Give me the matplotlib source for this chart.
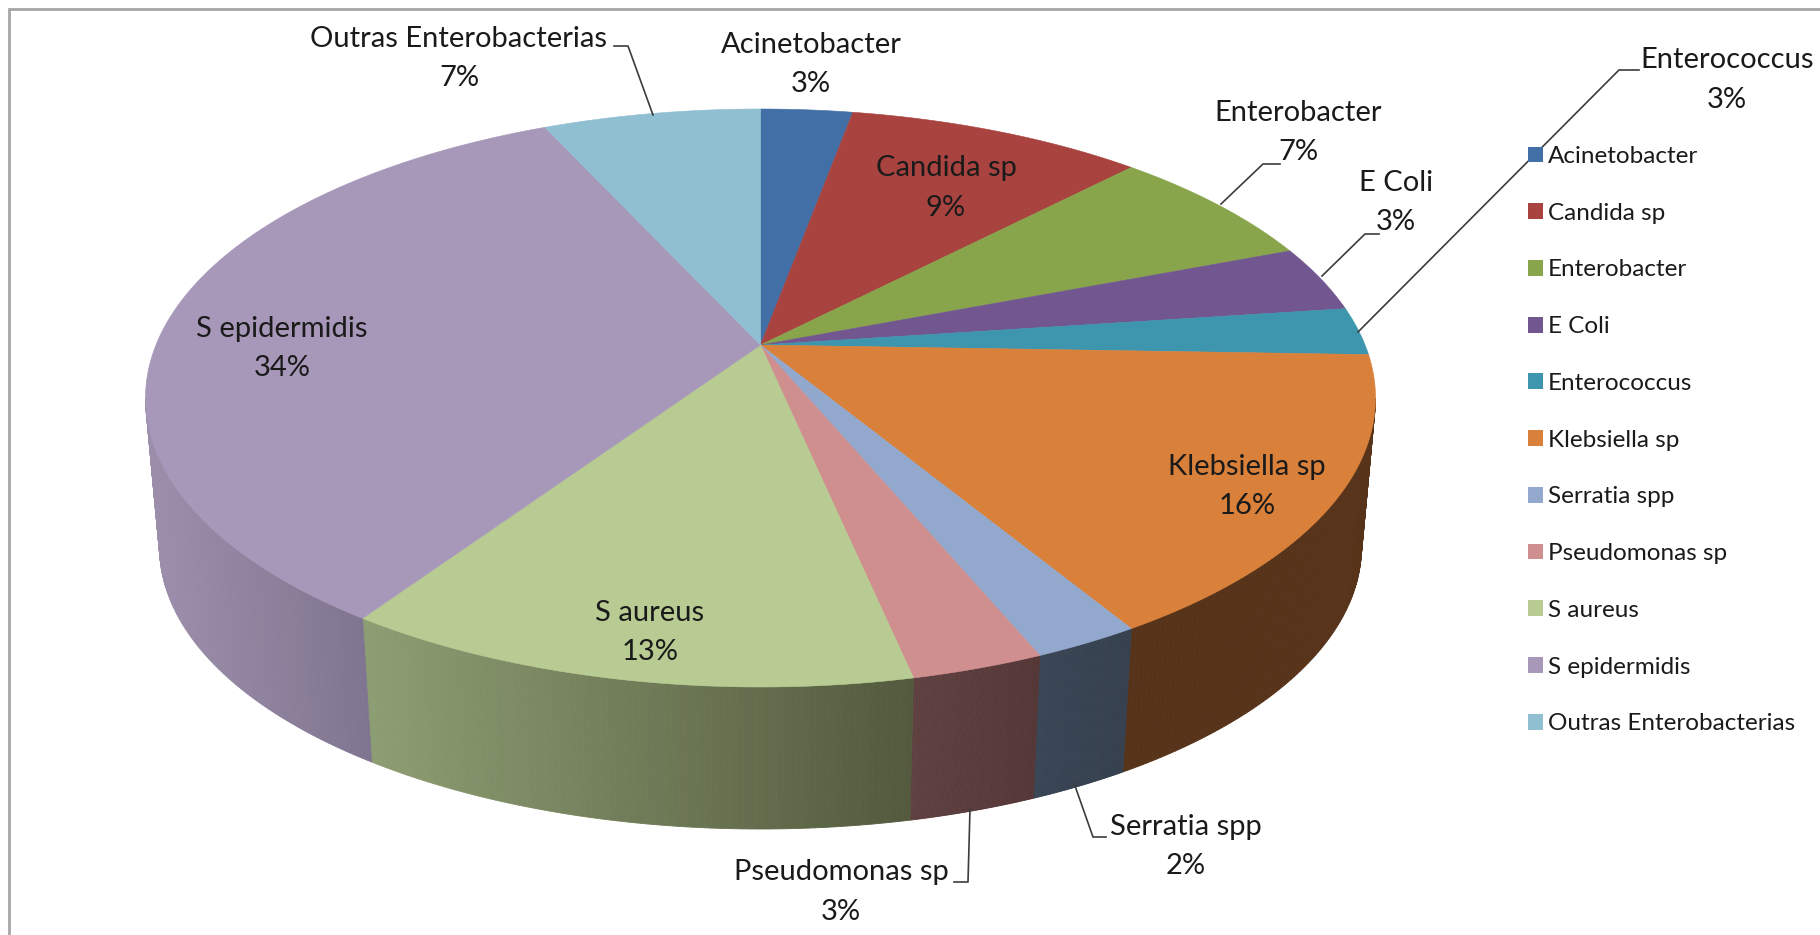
import matplotlib
matplotlib.use('Agg')
import matplotlib.pyplot as plt
from matplotlib.patches import Patch
from matplotlib.colors import to_rgb
import numpy as np

categories = ['Acinetobacter', 'Candida sp', 'Enterobacter', 'E Coli', 'Enterococcus',
              'Klebsiella sp', 'Serratia spp', 'Pseudomonas sp', 'S aureus', 'S epidermidis',
              'Outras Enterobacterias']
# share of the ellipse each slice takes in the picture
slice_share = [2.4, 7.9, 6.2, 3.5, 2.6, 17.1, 2.8, 3.5, 15.2, 33.1, 5.7]
# percentages printed on the labels
percent_labels = [3, 9, 7, 3, 3, 16, 2, 3, 13, 34, 7]

colors = ['#4270a6', '#a84340', '#88a54c', '#71568f', '#3e96ae', '#d9803a',
          '#92a8cd', '#cf8f8e', '#b7cb92', '#a797b9', '#90bfd2']
# side wall colours, left edge and right edge of each visible piece
side_colors = {5: ('#57331a', '#57331a'), 6: ('#394656', '#37414f'), 7: ('#5f4040', '#553636'),
               8: ('#8e9e73', '#535a3e'), 9: ('#9d8fab', '#807590')}

# label centres in pixels
label_pos = [(811, 45), (946, 168), (1298, 113), (1396, 183), (1727, 60), (1247, 467),
             (1186, 827), (841, 872), (650, 613), (282, 329), (459, 39)]
line_gap = 39.5

leaders = [[(614, 46), (628, 46), (653, 115)],
           [(1221, 204), (1263, 164), (1280, 164)],
           [(1322, 276), (1365, 234), (1379, 234)],
           [(1358, 332), (1619, 70), (1639, 70)],
           [(1074, 783), (1093, 837), (1106, 837)],
           [(970, 809), (968, 882), (954, 882)]]

cx, apex_y = 760.5, 345
top_y, top_rx, top_ry = 398, 615, 289
bot_y, bot_rx, bot_ry = 547, 601, 282


def top_edge(t):
    return cx + top_rx * np.sin(t), top_y - top_ry * np.cos(t)


def bottom_edge(t):
    return cx + bot_rx * np.sin(t), bot_y - bot_ry * np.cos(t)


fig = plt.figure(figsize=(18.2, 9.35), dpi=100)
ax = fig.add_axes([0, 0, 1, 1])
ax.set_xlim(0, 1820)
ax.set_ylim(935, 0)
ax.axis('off')

# grey chart frame, open on the right and at the bottom
ax.plot([9, 9, 1820], [935, 9, 9], color='#a6a6a6', lw=2, solid_joinstyle='miter')

edges = np.radians(np.cumsum([0] + slice_share) / sum(slice_share) * 360)

# side wall, drawn in thin strips so the shading can run left to right
for i, (c0, c1) in side_colors.items():
    a0 = max(edges[i], np.pi / 2)
    a1 = min(edges[i + 1], 3 * np.pi / 2)
    ts = np.linspace(a0, a1, 90)
    xs = top_edge(ts)[0]
    for k in range(len(ts) - 1):
        f = (xs[k] - xs.min()) / (xs.max() - xs.min())
        col = np.array(to_rgb(c0)) * (1 - f) + np.array(to_rgb(c1)) * f
        tx, ty = top_edge(ts[k:k + 2])
        bx, by = bottom_edge(ts[k:k + 2])
        ax.fill(np.r_[tx, bx[::-1]], np.r_[ty, by[::-1]], color=col, lw=0.6, zorder=1)

# top face
for i in range(len(categories)):
    ts = np.linspace(edges[i], edges[i + 1], 120)
    x, y = top_edge(ts)
    ax.fill(np.r_[cx, x], np.r_[apex_y, y], color=colors[i], lw=0.4, zorder=2)

for pts in leaders:
    ax.plot(*zip(*pts), color='#3c3c3c', lw=1.2, zorder=3)

for name, pct, (x, y) in zip(categories, percent_labels, label_pos):
    ax.text(x, y, name, ha='center', va='center', fontsize=21, family='Lato',
            color='#1a1a1a', zorder=4)
    ax.text(x, y + line_gap, f'{pct}%', ha='center', va='center', fontsize=21, family='Lato',
            color='#1a1a1a', zorder=4)

handles = [Patch(facecolor=c, edgecolor='none') for c in colors]
leg = ax.legend(handles, categories, loc='upper left', bbox_to_anchor=(1528 / 1820, 1 - 146 / 935),
                bbox_transform=fig.transFigure, frameon=False, ncol=1, borderaxespad=0, borderpad=0,
                prop={'family': 'Lato', 'size': 17.5}, labelcolor='#1a1a1a',
                handlelength=0.62, handleheight=0.62, handletextpad=0.19, labelspacing=1.47)
leg.set_zorder(5)

plt.savefig('out.png', dpi=100)
